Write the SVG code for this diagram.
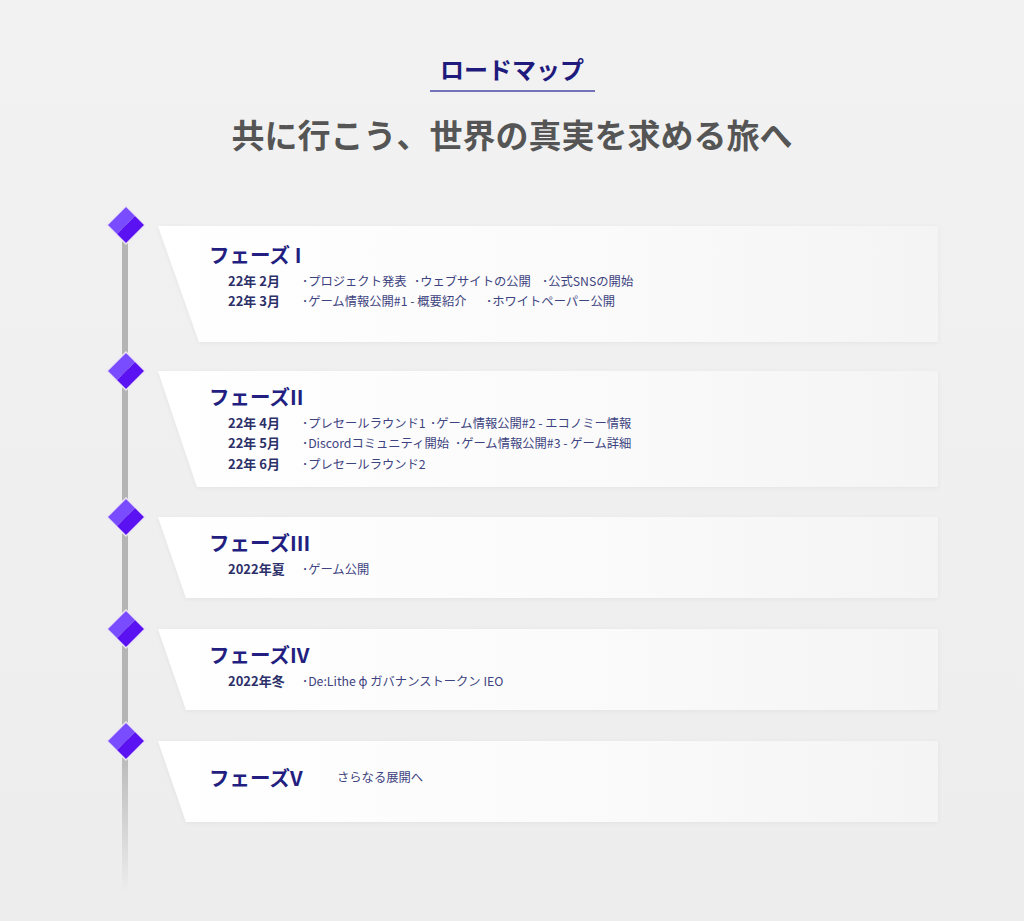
<svg xmlns="http://www.w3.org/2000/svg" width="1024" height="921" viewBox="0 0 1024 921">
<style>
.jp{font-family:"Noto Sans CJK JP","Noto Sans",sans-serif}
.title{font-size:24px;font-weight:700;fill:#1f1b7c}
.sub{font-size:33px;font-weight:700;fill:#555555}
.ph{font-size:20.5px;font-weight:700;fill:#221f80}
.dt{font-size:13px;font-weight:700;fill:#2c3068}
.it{font-size:12.3px;font-weight:400;fill:#3d4380}
.panel{fill:url(#pg);filter:url(#sh)}
</style>
<defs>
<linearGradient id="bg" x1="0" y1="0" x2="0" y2="1">
<stop offset="0" stop-color="#f2f2f2"/>
<stop offset="1" stop-color="#ededed"/>
</linearGradient>
<linearGradient id="pg" x1="0" y1="0" x2="1" y2="0">
<stop offset="0" stop-color="#ffffff"/>
<stop offset="0.6" stop-color="#fafafa"/>
<stop offset="1" stop-color="#f4f4f4"/>
</linearGradient>
<linearGradient id="lg" gradientUnits="userSpaceOnUse" x1="0" y1="740" x2="0" y2="892">
<stop offset="0" stop-color="#b4b4b4"/>
<stop offset="1" stop-color="#ededed"/>
</linearGradient>
<filter id="sh" x="-5%" y="-20%" width="110%" height="140%">
<feDropShadow dx="0" dy="1" stdDeviation="2" flood-color="#000" flood-opacity="0.05"/>
</filter>
<g id="dia">
<polygon points="-19,0 0,-19 9.5,-9.5 -9.5,9.5" fill="#7a4cff"/>
<polygon points="9.5,-9.5 19,0 0,19 -9.5,9.5" fill="#5b12f2"/>
<polygon points="0,-19 19,0 0,19 -19,0" fill="none" stroke="#ece6f2" stroke-width="1.5"/>
</g>
</defs>
<rect width="1024" height="921" fill="url(#bg)"/>

<g id="header">
<text class="jp title" x="512" y="79" text-anchor="middle">ロードマップ</text>
<line x1="430" y1="91" x2="595" y2="91" stroke="#4a47a6" stroke-width="1.5"/>
<text class="jp sub" x="512" y="148" text-anchor="middle">共に行こう、世界の真実を求める旅へ</text>
</g>

<g id="connectors">
<rect x="122" y="225" width="6" height="667" fill="url(#lg)"/>
</g>

<g id="phase1">
<polygon class="panel" points="158,226 938,226 938,342 199,342"/>
<use href="#dia" x="126" y="225"/>
<text class="jp ph" x="209" y="263">フェーズ I</text>
<text class="jp dt" x="228" y="286">22年 2月</text>
<text class="jp it" x="302" y="286">･プロジェクト発表</text>
<text class="jp it" x="414" y="286">･ウェブサイトの公開</text>
<text class="jp it" x="542" y="286">･公式SNSの開始</text>
<text class="jp dt" x="228" y="306">22年 3月</text>
<text class="jp it" x="302" y="306">･ゲーム情報公開#1 - 概要紹介</text>
<text class="jp it" x="486" y="306">･ホワイトペーパー公開</text>
</g>

<g id="phase2">
<polygon class="panel" points="158,371 938,371 938,487 197,487"/>
<use href="#dia" x="126" y="371"/>
<text class="jp ph" x="209" y="405">フェーズII</text>
<text class="jp dt" x="228" y="428">22年 4月</text>
<text class="jp it" x="302" y="428">･プレセールラウンド1</text>
<text class="jp it" x="430" y="428">･ゲーム情報公開#2 - エコノミー情報</text>
<text class="jp dt" x="228" y="448">22年 5月</text>
<text class="jp it" x="302" y="448">･Discordコミュニティ開始</text>
<text class="jp it" x="455" y="448">･ゲーム情報公開#3 - ゲーム詳細</text>
<text class="jp dt" x="228" y="469">22年 6月</text>
<text class="jp it" x="302" y="469">･プレセールラウンド2</text>
</g>

<g id="phase3">
<polygon class="panel" points="158,517 938,517 938,598 186,598"/>
<use href="#dia" x="126" y="517"/>
<text class="jp ph" x="209" y="551">フェーズIII</text>
<text class="jp dt" x="228" y="574">2022年夏</text>
<text class="jp it" x="302" y="574">･ゲーム公開</text>
</g>

<g id="phase4">
<polygon class="panel" points="158,629 938,629 938,710 186,710"/>
<use href="#dia" x="126" y="629"/>
<text class="jp ph" x="209" y="663">フェーズIV</text>
<text class="jp dt" x="228" y="686">2022年冬</text>
<text class="jp it" x="302" y="686">･De:Lithe ɸ ガバナンストークン IEO</text>
</g>

<g id="phase5">
<polygon class="panel" points="158,741 938,741 938,822 186,822"/>
<use href="#dia" x="126" y="741"/>
<text class="jp ph" x="209" y="786">フェーズV</text>
<text class="jp it" x="337" y="782">さらなる展開へ</text>
</g>
</svg>
